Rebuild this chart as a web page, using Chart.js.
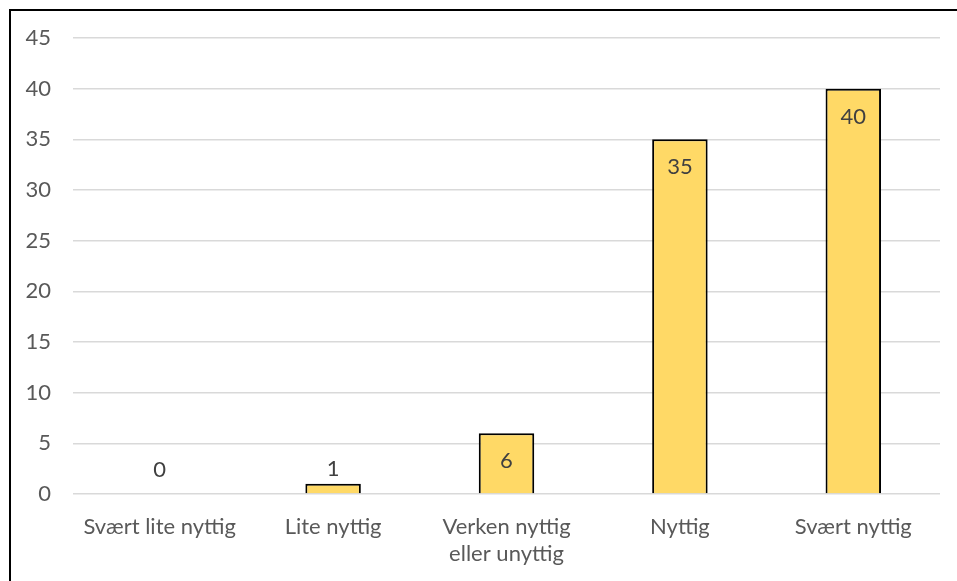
<!DOCTYPE html>
<html>
<head>
<meta charset="utf-8">
<script src="https://cdn.jsdelivr.net/npm/chart.js@4.4.1/dist/chart.umd.min.js"></script>
<style>
  html, body { margin: 0; padding: 0; background: #fff; }
  #wrap { width: 957px; height: 581px; }
</style>
</head>
<body>
<div id="wrap"><canvas id="chart" width="957" height="581"></canvas></div>
<script>
const categories = ['Svært lite nyttig', 'Lite nyttig', ['Verken nyttig', 'eller unyttig'], 'Nyttig', 'Svært nyttig'];
const answers = [0, 1, 6, 35, 40];
const yTicks = [0, 5, 10, 15, 20, 25, 30, 35, 40, 45];

const FONT = 'Lato, "Open Sans", sans-serif';

// frame line along the top and left edge
const framePlugin = {
  id: 'frame',
  beforeDraw(chart) {
    const c = chart.ctx;
    c.save();
    c.fillStyle = '#fff';
    c.fillRect(0, 0, chart.width, chart.height);
    c.strokeStyle = '#000';
    c.lineWidth = 2;
    c.beginPath();
    c.moveTo(10, chart.height);
    c.lineTo(10, 10);
    c.lineTo(chart.width, 10);
    c.stroke();
    c.restore();
  }
};

// value labels: inside the top of tall bars, above short ones
const valueLabels = {
  id: 'valueLabels',
  afterDatasetsDraw(chart) {
    const c = chart.ctx;
    const meta = chart.getDatasetMeta(0);
    c.save();
    c.font = '22px ' + FONT;
    c.fillStyle = '#404040';
    c.textAlign = 'center';
    c.textBaseline = 'middle';
    meta.data.forEach((bar, i) => {
      const v = chart.data.datasets[0].data[i];
      const h = bar.base - bar.y;
      const y = h > 40 ? bar.y + 28 : Math.min(bar.y - 15, bar.base - 24);
      c.fillText(String(v), bar.x, y);
    });
    c.restore();
  }
};

new Chart(document.getElementById('chart'), {
  type: 'bar',
  data: {
    labels: categories,
    datasets: [{
      data: answers,
      backgroundColor: '#FFD966',
      borderColor: '#000',
      borderWidth: 2,
      categoryPercentage: 1,
      barPercentage: 0.32
    }]
  },
  options: {
    responsive: false,
    animation: false,
    layout: { padding: { left: 20, right: 17, top: 38, bottom: 0 } },
    plugins: { legend: { display: false }, tooltip: { enabled: false } },
    scales: {
      x: {
        grid: { display: false },
        border: { display: false },
        ticks: { color: '#595959', font: { family: FONT, size: 22 }, padding: 12, maxRotation: 0 },
        afterFit(s) { s.height = 87; }
      },
      y: {
        min: 0,
        max: 45,
        afterBuildTicks(s) { s.ticks = yTicks.map(v => ({ value: v })); },
        grid: { color: '#d9d9d9', lineWidth: 1.5, drawTicks: false },
        border: { display: false },
        ticks: { color: '#595959', font: { family: FONT, size: 22 }, padding: 22 },
        afterFit(s) { s.width = 53; }
      }
    }
  },
  plugins: [framePlugin, valueLabels]
});
</script>
</body>
</html>
